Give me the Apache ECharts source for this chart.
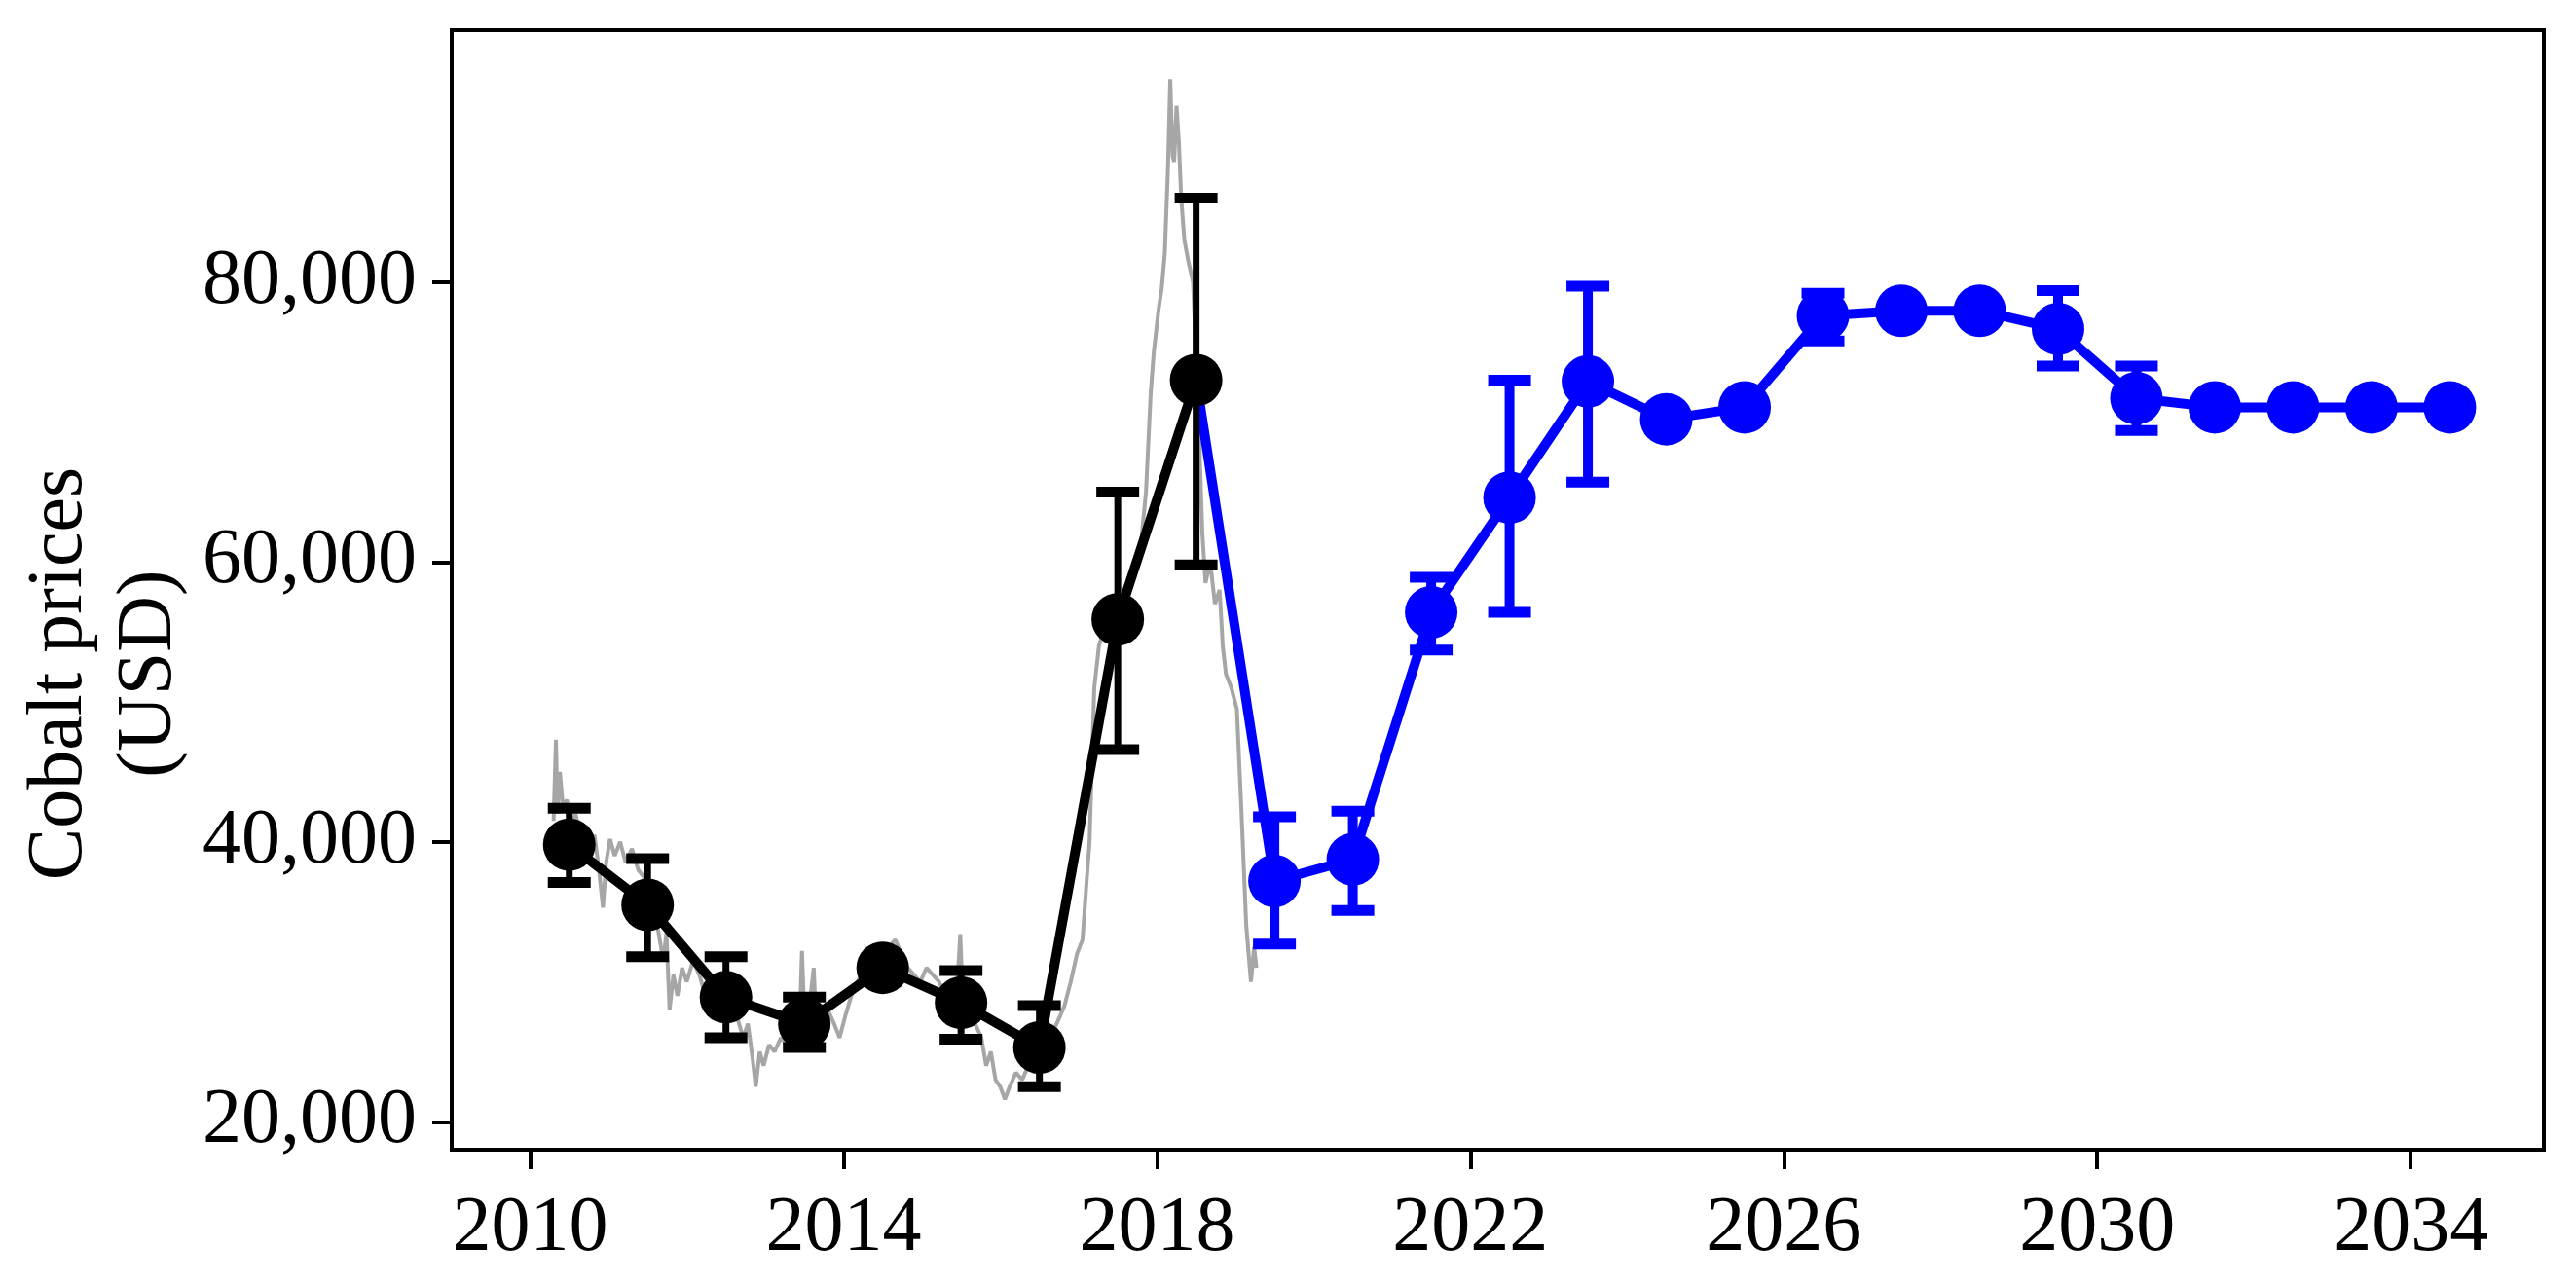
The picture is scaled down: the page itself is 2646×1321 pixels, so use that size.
<!DOCTYPE html>
<html>
<head>
<meta charset="utf-8">
<script src="https://cdn.jsdelivr.net/npm/echarts@6/dist/echarts.min.js"></script>
<style>
  html, body { margin: 0; padding: 0; background: #fff; }
  #chart { width: 2646px; height: 1321px; }
</style>
</head>
<body>
<div id="chart"></div>
<script>
// ---------- data ----------
const xTicks = [2010, 2014, 2018, 2022, 2026, 2030, 2034];
const yTicks = [20000, 40000, 60000, 80000];

const histYears = [2010.5, 2011.5, 2012.5, 2013.5, 2014.5, 2015.5, 2016.5, 2017.5, 2018.5];
const histMean  = [39800, 35500, 28900, 27000, 31000, 28500, 25300, 55900, 73000];
const histLow   = [37100, 31800, 26000, 25300, null, 25900, 22500, 46600, 59800];
const histHigh  = [42400, 38800, 31800, 28900, null, 30800, 28300, 65000, 86000];

const foreYears = [2019.5, 2020.5, 2021.5, 2022.5, 2023.5, 2024.5, 2025.5, 2026.5,
                   2027.5, 2028.5, 2029.5, 2030.5, 2031.5, 2032.5, 2033.5, 2034.5];
const foreMean  = [37200, 38750, 56400, 64600, 72900, 70200, 71050, 77600,
                   77950, 77950, 76650, 71700, 71050, 71050, 71050, 71050];
const foreLow   = [32700, 35100, 53700, 56400, 65700, null, null, 75800,
                   null, null, 74000, 69400, null, null, null, null];
const foreHigh  = [41800, 42200, 58900, 73000, 79700, null, null, 79200,
                   null, null, 79400, 74000, null, null, null, null];

const grayYears = [
  2010.30, 2010.33, 2010.35, 2010.38, 2010.42, 2010.47, 2010.52, 2010.58, 2010.64, 2010.70,
  2010.76, 2010.82, 2010.88, 2010.93, 2010.97, 2011.02, 2011.08, 2011.15, 2011.22, 2011.30,
  2011.38, 2011.45, 2011.52, 2011.58, 2011.64, 2011.70, 2011.74, 2011.78, 2011.83, 2011.88,
  2011.94, 2012.00, 2012.08, 2012.16, 2012.24, 2012.32, 2012.40, 2012.48, 2012.56, 2012.64,
  2012.72, 2012.78, 2012.84, 2012.88, 2012.93, 2012.98, 2013.05, 2013.12, 2013.20, 2013.28,
  2013.36, 2013.44, 2013.47, 2013.50, 2013.56, 2013.62, 2013.65, 2013.72, 2013.80, 2013.88,
  2013.95, 2014.02, 2014.10, 2014.18, 2014.26, 2014.34, 2014.42, 2014.50, 2014.58, 2014.66,
  2014.74, 2014.82, 2014.90, 2014.98, 2015.06, 2015.14, 2015.22, 2015.30, 2015.38, 2015.45,
  2015.49, 2015.52, 2015.60, 2015.68, 2015.76, 2015.82, 2015.88, 2015.94, 2016.00, 2016.06,
  2016.12, 2016.20, 2016.28, 2016.36, 2016.44, 2016.52, 2016.60, 2016.68, 2016.76, 2016.82,
  2016.90, 2016.98, 2017.05, 2017.10, 2017.14, 2017.20, 2017.26, 2017.34, 2017.42, 2017.50,
  2017.58, 2017.66, 2017.74, 2017.80, 2017.86, 2017.92, 2017.96, 2018.02, 2018.06, 2018.10,
  2018.14, 2018.17, 2018.20, 2018.22, 2018.25, 2018.28, 2018.31, 2018.35, 2018.40, 2018.46,
  2018.52, 2018.58, 2018.62, 2018.68, 2018.74, 2018.80, 2018.84, 2018.88, 2018.95, 2019.02,
  2019.08, 2019.14, 2019.20, 2019.24, 2019.27
];
const grayPrices = [
  41500, 47300, 42000, 45000, 42500, 43000, 41000, 42000, 40500, 40000,
  39000, 40500, 38000, 35300, 38500, 40200, 39000, 40000, 38500, 39500,
  38000, 37500, 36500, 35000, 33500, 31500, 33500, 28000, 30500, 29000,
  31000, 30000, 31500, 30500, 29000, 28500, 30000, 29500, 28500, 27500,
  26000, 27000, 24500, 22500, 25000, 24000, 25500, 25000, 26000, 25500,
  27500, 27000, 32200, 27500, 28000, 31000, 27000, 26500, 28000, 27000,
  26000, 27500, 29000, 30000, 31000, 30500, 31500, 31000, 32500, 33000,
  32000, 31000, 30500, 30000, 31000, 30500, 30000, 29000, 30000, 29500,
  33400, 29000, 28000, 27000, 26000, 24000, 25000, 23000, 22500, 21600,
  22500, 23500, 23000, 24000, 23500, 24500, 25500, 26500, 27500, 28300,
  30000, 32000, 33000, 37000, 40000, 51000, 54000, 55500, 56500, 57000,
  58000, 59000, 60000, 61500, 65000, 72000, 75000, 78000, 79500, 82000,
  88000, 94500, 89000, 88600, 92600, 90000, 86000, 83000, 81500, 80000,
  72000, 62000, 58500, 60000, 57000, 58000, 54000, 52000, 51000, 49500,
  42000, 34000, 30000, 32500, 31000
];

// ---------- build ----------
function pairs(xs, ys) { return xs.map((x, i) => [x, ys[i]]); }
function errData(xs, lo, hi) {
  const out = [];
  xs.forEach((x, i) => { if (lo[i] != null && hi[i] != null) out.push([x, lo[i], hi[i]]); });
  return out;
}
function errRender(color, stemW) {
  return function (params, api) {
    const x = api.value(0), lo = api.value(1), hi = api.value(2);
    const a = api.coord([x, lo]), b = api.coord([x, hi]);
    const half = 22;
    return {
      type: 'group',
      children: [
        { type: 'line', shape: { x1: a[0], y1: a[1], x2: b[0], y2: b[1] }, style: { stroke: color, lineWidth: stemW } },
        { type: 'line', shape: { x1: b[0] - half, y1: b[1], x2: b[0] + half, y2: b[1] }, style: { stroke: color, lineWidth: 11 } },
        { type: 'line', shape: { x1: a[0] - half, y1: a[1], x2: a[0] + half, y2: a[1] }, style: { stroke: color, lineWidth: 11 } }
      ]
    };
  };
}

const BLUE = '#0000ff';
const FONT = 'Liberation Serif';

const foreLine = [{ value: [histYears[histYears.length - 1], histMean[histMean.length - 1]], symbol: 'none' }]
  .concat(pairs(foreYears, foreMean));

const chart = echarts.init(document.getElementById('chart'), null, { renderer: 'canvas' });
chart.setOption({
  animation: false,
  backgroundColor: '#fff',
  grid: { left: 464, right: 33, top: 31, bottom: 140, show: true, borderColor: '#000', borderWidth: 4, backgroundColor: 'transparent' },
  xAxis: {
    type: 'value', min: 2009, max: 2035.7,
    axisLine: { show: true, lineStyle: { color: '#000', width: 4 } },
    axisTick: { show: true, customValues: xTicks, length: 20, inside: false, lineStyle: { color: '#000', width: 4 } },
    axisLabel: { customValues: xTicks, fontFamily: FONT, fontSize: 80, color: '#000', margin: 42, formatter: v => String(v) },
    splitLine: { show: false }
  },
  yAxis: {
    type: 'value', min: 18000, max: 98000,
    axisLine: { show: true, lineStyle: { color: '#000', width: 4 } },
    axisTick: { show: true, customValues: yTicks, length: 20, inside: false, lineStyle: { color: '#000', width: 4 } },
    axisLabel: { customValues: yTicks, fontFamily: FONT, fontSize: 80, color: '#000', margin: 36,
      formatter: v => Number(v).toLocaleString('en-US') },
    splitLine: { show: false }
  },
  graphic: [
    { type: 'text', x: 62, y: 692, rotation: Math.PI / 2,
      style: { text: 'Cobalt prices', fontFamily: FONT, fontSize: 80, fill: '#000', align: 'center', verticalAlign: 'middle' } },
    { type: 'text', x: 154, y: 692, rotation: Math.PI / 2,
      style: { text: '(USD)', fontFamily: FONT, fontSize: 80, fill: '#000', align: 'center', verticalAlign: 'middle' } }
  ],
  series: [
    { type: 'line', name: 'price', data: pairs(grayYears, grayPrices), symbol: 'none', z: 1,
      lineStyle: { color: '#a6a6a6', width: 4 }, silent: true },
    { type: 'custom', name: 'foreErr', data: errData(foreYears, foreLow, foreHigh), renderItem: errRender(BLUE, 10), z: 2,
      encode: { x: 0, y: [1, 2] } },
    { type: 'line', name: 'forecast', data: foreLine, symbol: 'circle', symbolSize: 54, z: 3,
      itemStyle: { color: BLUE }, lineStyle: { color: BLUE, width: 10 } },
    { type: 'custom', name: 'histErr', data: errData(histYears, histLow, histHigh), renderItem: errRender('#000', 7), z: 4,
      encode: { x: 0, y: [1, 2] } },
    { type: 'line', name: 'history', data: pairs(histYears, histMean), symbol: 'circle', symbolSize: 54, z: 5,
      itemStyle: { color: '#000' }, lineStyle: { color: '#000', width: 10 } }
  ]
});
</script>
</body>
</html>
